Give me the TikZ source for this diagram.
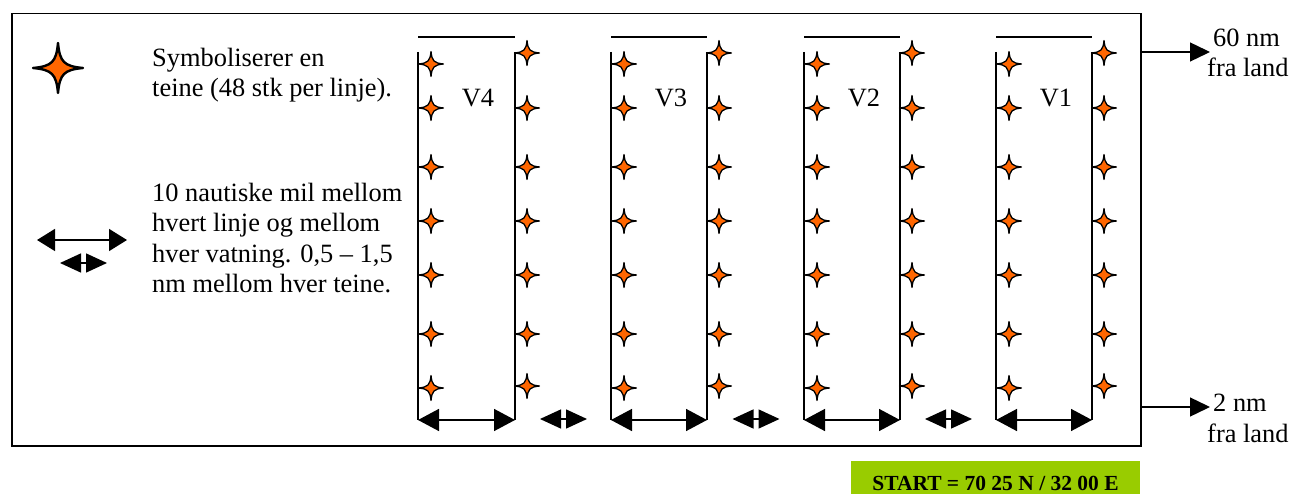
\documentclass[tikz,border=0pt]{standalone}
\usepackage{fontspec}
\setmainfont{Liberation Serif}
\usetikzlibrary{arrows.meta}
\definecolor{teineorange}{RGB}{255,102,0}
\definecolor{startgreen}{RGB}{153,204,0}
\begin{document}
\begin{tikzpicture}[x=1pt,y=-1pt,
  txt/.style={inner sep=0pt, font=\fontsize{26.4}{30}\selectfont, anchor=base west},
  rule/.style={line width=1.5pt},
  colarrow/.style={line width=1.5pt, {Triangle[length=21pt,width=22pt]}-{Triangle[length=21pt,width=22pt]}},
  gaparrow/.style={line width=1.5pt, {Triangle[length=21pt,width=19pt]}-{Triangle[length=21pt,width=19pt]}},
  bigarrow/.style={line width=1.5pt, {Triangle[length=18pt,width=22pt]}-{Triangle[length=18pt,width=22pt]}},
  outarrow/.style={line width=1.3pt, -{Triangle[length=20pt,width=19pt]}},
  teine/.pic={\path[draw=black, fill=teineorange, line join=round]
    (12.5,0) .. controls (3,0.9) and (0.9,3) .. (0,12.5)
    .. controls (-0.9,3) and (-3,0.9) .. (-12.5,0)
    .. controls (-3,-0.9) and (-0.9,-3) .. (0,-12.5)
    .. controls (0.9,-3) and (3,-0.9) .. cycle;},
  smallstar/.style={line width=1.3pt},
]
\useasboundingbox (0,0) rectangle (1303,494);

% outer area
\node[draw, line width=1.5pt, minimum width=1129pt, minimum height=432pt, inner sep=0pt, anchor=north west] (area) at (11,13) {};

% legend
\pic[scale=2, line width=2.4pt] at (58,68) {teine};
\node[txt] (leg1a) at (152,67) {Symboliserer en};
\node[txt] (leg1b) at (152,97) {teine (48 stk per linje).};
\coordinate (lbA) at (37,240); \coordinate (lbB) at (127,240);
\draw[bigarrow] (lbA) -- (lbB);
\coordinate (lsA) at (60,263); \coordinate (lsB) at (107,263);
\draw[gaparrow] (lsA) -- (lsB);
\node[txt] (leg2a) at (152,202) {10 nautiske mil mellom};
\node[txt] (leg2b) at (152,232) {hvert linje og mellom};
\node[txt] (leg2c) at (152,262) {hver vatning. 0,5 -- 1,5};
\node[txt] (leg2d) at (152,292) {nm mellom hver teine.};

% columns
\foreach \L/\R/\lab/\n in {418/515/V4/4, 611/707/V3/3, 804/900/V2/2, 996/1092/V1/1} {
  \coordinate (tl\n) at (\L,52); \coordinate (bl\n) at (\L,420);
  \coordinate (tr\n) at (\R,52); \coordinate (br\n) at (\R,420);
  \coordinate (hl\n) at (\L,37); \coordinate (hr\n) at (\R,37);
  \draw[rule] (tl\n) -- (bl\n);
  \draw[rule] (tr\n) -- (br\n);
  \draw[rule] (hl\n) -- (hr\n);
  \draw[colarrow] (bl\n) -- (br\n);
  \node[txt, anchor=base] (lab\n) at (\L+60,107) {\lab};
  \foreach \y in {64,108,167,221,275,334,388}
    \pic[smallstar] at (\L+13,\y) {teine};
  \foreach \y in {53,108,167,221,275,334,386}
    \pic[smallstar] at (\R+12,\y) {teine};
}

% gaps between columns
\foreach \x/\n in {540/a, 732.5/b, 925/c} {
  \coordinate (g\n1) at (\x,419); \coordinate (g\n2) at (\x+47,419);
  \draw[gaparrow] (g\n1) -- (g\n2);
}

% right side
\coordinate (t60) at (1210,52);
\coordinate (t2) at (1210,407);
\draw[outarrow] (area.east |- t60) -- (t60);
\draw[outarrow] (area.east |- t2) -- (t2);
\node[txt] (r60a) at (1213,47) {60 nm};
\node[txt] (r60b) at (1207,77) {fra land};
\node[txt] (r2a) at (1213,411) {2 nm};
\node[txt] (r2b) at (1207,442) {fra land};

% start box
\node[fill=startgreen, inner xsep=0pt, inner ysep=0pt, minimum width=289pt,
      text height=29pt, text depth=4pt, anchor=base,
      font=\bfseries\fontsize{21.5}{24}\selectfont] (start) at (995.5,490)
  {START = 70 25 N / 32 00 E};
\end{tikzpicture}
\end{document}
